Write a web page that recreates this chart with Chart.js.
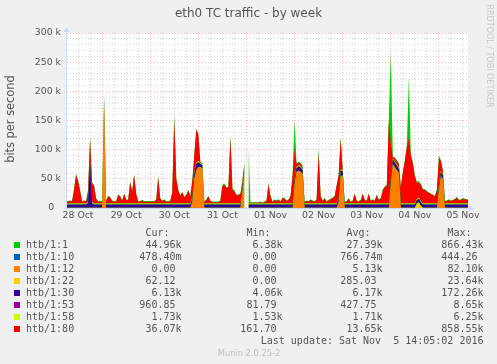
<!DOCTYPE html>
<html>
<head>
<meta charset="utf-8">
<script src="https://cdn.jsdelivr.net/npm/chart.js@4.4.0/dist/chart.umd.min.js"></script>
<style>
  html, body { margin: 0; padding: 0; background: #f0f0f0; }
  #wrap { position: relative; width: 497px; height: 364px; overflow: hidden; font-family: "DejaVu Sans", sans-serif; color: #555; }
  #chart { position: absolute; left: 0; top: 0; }
  .txt { position: absolute; white-space: pre; }
  .mono { font-family: "DejaVu Sans Mono", monospace; font-size: 10px; line-height: 12px; height: 12px; }
  .box { position: absolute; width: 6px; height: 6px; }
</style>
</head>
<body>
<div id="wrap">
  <canvas id="chart" width="497" height="364"></canvas>
  <div class="txt" style="left:0; width:497px; top:6px; text-align:center; font-size:12px; line-height:14px;">eth0 TC traffic - by week</div>
  <div class="txt" style="left:-50px; top:112px; width:120px; text-align:center; font-size:11.4px; line-height:14px; transform:rotate(-90deg);">bits per second</div>
  <div class="txt" style="left:434px; top:51px; width:110px; text-align:center; font-size:8px; line-height:10px; color:#c8c8c8; transform:rotate(90deg);">RRDTOOL / TOBI OETIKER</div>
  <div class="txt" style="left:149px; width:200px; top:348px; text-align:center; font-size:8.3px; line-height:10px; color:#c0c0c0;">Munin 2.0.25-2</div>
  <div id="legend"></div>
</div>
<script>
// time axis: one value per hour, first value at 28 Oct 06:00 (hours counted from 28 Oct 00:00)
const firstHour = 6;
const dayLabels = ['28 Oct', '29 Oct', '30 Oct', '31 Oct', '01 Nov', '02 Nov', '03 Nov', '04 Nov', '05 Nov'];

// values in kbit/s, one row per day
const htb1 = [
  [12,12,13,12,32,59,48,31,12,13,12,30,121,44,39,17,12,12],
  [12,194,13,21,19,13,12,12,23,21,13,25,15,14,46,29,58,25,12,12,14,12,12,12],
  [12,12,12,15,55,17,13,15,12,12,13,27,162,52,31,22,28,19,23,31,21,47,92,136],
  [127,79,77,11,15,21,13,11,11,11,11,13,40,42,36,36,126,34,30,23,23,25,47,78],
  [null,103,10,10,10,10,10,11,10,11,13,43,21,11,15,13,15,12,18,17,13,15,21,57],
  [150,77,79,78,72,11,13,12,15,13,12,15,102,21,13,17,12,14,16,18,21,40,57,122],
  [66,11,12,17,11,13,25,13,12,14,25,15,13,25,13,15,13,23,15,17,32,37,40,151],
  [266,88,87,82,77,37,62,82,107,224,92,78,56,45,46,41,33,32,29,27,25,23,21,32],
  [90,82,64,13,13,15,13,14,16,19,14,15,17,16,15,15]
].flat();

const htb10 = [
  [0,0,0,0,0,0,0,0,0,0,0,0,0,0,0,0,0,0],
  [0,0,0,0,0,0,0,0,0,0,0,0,0,0,0,0,0,0,0,0,0,0,0,0],
  [0,0,0,0,0,0,0,0,0,0,0,0,0,0,0,0,0,0,0,0,0,0,0,0],
  [0,0,0,0,0,0,0,0,0,0,0,0,0,0,0,0,0,0,0,0,0,0,0,0],
  [null,0,0,0,0,0,0,0,0,0,0,0,0,0,0,0,0,0,0,0,0,0,0,0],
  [0,0,0,0,0,0,0,0,0,0,0,0,0,0,0,0,0,0,0,0,0,0,0,0],
  [0,0,0,0,0,0,0,0,0,0,0,0,0,0,0,0,0,0,0,0,0,0,0,0],
  [0,0,0,0,0,0,0,0,0,0,0,0,0,0,0,0,0,0,0,0,0,0,0,0],
  [0,0,0,0,0,0,0,0,0,0,0,0,0,0,0,0]
].flat();

const htb12 = [
  [0,0,0,0,0,0,0,0,0,0,0,0,0,0,0,0,0,0],
  [0,178,0,0,0,0,0,0,0,0,0,0,0,0,0,0,0,0,0,0,0,0,0,0],
  [0,0,0,0,0,0,0,0,0,0,0,0,0,0,0,0,0,0,0,0,0,10,50,65],
  [70,70,68,0,0,0,0,0,0,0,0,0,0,0,0,0,0,0,0,0,0,0,30,62],
  [null,0,0,0,0,0,0,0,0,0,0,0,0,0,0,0,0,0,0,0,0,0,0,0],
  [40,62,64,62,58,0,0,0,0,0,0,0,0,0,0,0,0,0,0,0,0,0,10,55],
  [55,0,0,0,0,0,0,0,0,0,0,0,0,0,0,0,0,0,0,0,0,0,0,0],
  [40,75,70,65,60,0,0,0,0,0,0,0,0,0,0,0,0,0,0,0,0,0,0,0],
  [30,54,50,0,0,0,0,0,0,0,0,0,0,0,0,0]
].flat();

const htb22 = [
  [0.3,0.3,0.3,0.3,0.3,0.3,0.3,0.3,0.3,0.3,0.3,0.3,0.3,0.3,0.3,0.3,0.3,0.3],
  [0.3,0.3,0.3,0.3,0.3,0.3,0.3,0.3,0.3,0.3,0.3,0.3,0.3,0.3,0.3,0.3,0.3,0.3,0.3,0.3,0.3,0.3,0.3,0.3],
  [0.3,0.3,0.3,0.3,0.3,0.3,0.3,0.3,0.3,0.3,0.3,0.3,0.3,0.3,0.3,0.3,0.3,0.3,0.3,0.3,0.3,0.3,0.3,0.3],
  [0.3,0.3,0.3,0.3,0.3,0.3,0.3,0.3,0.3,0.3,0.3,0.3,0.3,0.3,0.3,0.3,0.3,0.3,0.3,0.3,0.3,0.3,0.3,0.3],
  [null,0.3,0.3,0.3,0.3,0.3,0.3,0.3,0.3,0.3,0.3,0.3,0.3,0.3,0.3,0.3,0.3,0.3,0.3,0.3,0.3,0.3,0.3,0.3],
  [0.3,0.3,0.3,0.3,0.3,0.3,0.3,0.3,0.3,0.3,0.3,0.3,0.3,0.3,0.3,0.3,0.3,0.3,0.3,0.3,0.3,0.3,0.3,0.3],
  [0.3,0.3,0.3,0.3,0.3,0.3,0.3,0.3,0.3,0.3,0.3,0.3,0.3,0.3,0.3,0.3,0.3,0.3,0.3,0.3,0.3,0.3,0.3,0.3],
  [0.3,0.3,0.3,0.3,0.3,0.3,0.3,0.3,0.3,0.3,0.3,0.3,0.3,8,10,4,0.3,0.3,0.3,0.3,0.3,0.3,0.3,0.3],
  [0.3,0.3,0.3,0.3,0.3,0.3,0.3,0.3,0.3,0.3,0.3,0.3,0.3,0.3,0.3,0.3]
].flat();

const htb30 = [
  [5.5,5.5,5.5,5.5,5.5,5.5,5.5,5.5,5.5,5.5,5.5,8,78,8,5.5,5.5,5.5,5.5],
  [5.5,5,5.5,5.5,5.5,5.5,5.5,5.5,5.5,5.5,5.5,5.5,5.5,5.5,5.5,5.5,5.5,5.5,5.5,5.5,5.5,5.5,5.5,5.5],
  [5.5,5.5,5.5,5.5,5.5,5.5,5.5,5.5,5.5,5.5,5.5,5.5,5.5,5.5,5.5,5.5,5.5,5.5,5.5,5.5,5.5,6,8,10],
  [8,5,5,5.5,5.5,5.5,5.5,5.5,5.5,5.5,5.5,5.5,5.5,5.5,5.5,5.5,5.5,5.5,5.5,5.5,5.5,5.5,6,7],
  [null,5.5,5.5,5.5,5.5,5.5,5.5,5.5,5.5,5.5,5.5,5.5,5.5,5.5,5.5,5.5,5.5,5.5,5.5,5.5,5.5,5.5,5.5,5.5],
  [6,6,7,7,6,5.5,5.5,5.5,5.5,5.5,5.5,5.5,5.5,5.5,5.5,5.5,5.5,5.5,5.5,5.5,5.5,5.5,6,8],
  [8,5.5,5.5,5.5,5.5,5.5,5.5,5.5,5.5,5.5,5.5,5.5,5.5,5.5,5.5,5.5,5.5,5.5,5.5,5.5,5.5,5.5,5.5,5.5],
  [6,8,7,7,6,5.5,5.5,5.5,5.5,5.5,5.5,5.5,5.5,5.5,5.5,5.5,5.5,5.5,5.5,5.5,5.5,5.5,5.5,5.5],
  [6,7,6,5.5,5.5,5.5,5.5,5.5,5.5,5.5,5.5,5.5,5.5,5.5,5.5,5.5]
].flat();

const htb53 = [
  [0.4,0.4,0.4,0.4,0.4,0.4,0.4,0.4,0.4,0.4,0.4,0.4,0.4,0.4,0.4,0.4,0.4,0.4],
  [0.4,0.4,0.4,0.4,0.4,0.4,0.4,0.4,0.4,0.4,0.4,0.4,0.4,0.4,0.4,0.4,0.4,0.4,0.4,0.4,0.4,0.4,0.4,0.4],
  [0.4,0.4,0.4,0.4,0.4,0.4,0.4,0.4,0.4,0.4,0.4,0.4,0.4,0.4,0.4,0.4,0.4,0.4,0.4,0.4,0.4,0.4,0.4,0.4],
  [0.4,0.4,0.4,0.4,0.4,0.4,0.4,0.4,0.4,0.4,0.4,0.4,0.4,0.4,0.4,0.4,0.4,0.4,0.4,0.4,0.4,0.4,0.4,0.4],
  [null,0.4,0.4,0.4,0.4,0.4,0.4,0.4,0.4,0.4,0.4,0.4,0.4,0.4,0.4,0.4,0.4,0.4,0.4,0.4,0.4,0.4,0.4,0.4],
  [0.4,0.4,0.4,0.4,0.4,0.4,0.4,0.4,0.4,0.4,0.4,0.4,0.4,0.4,0.4,0.4,0.4,0.4,0.4,0.4,0.4,0.4,0.4,0.4],
  [0.4,0.4,0.4,0.4,0.4,0.4,0.4,0.4,0.4,0.4,0.4,0.4,0.4,0.4,0.4,0.4,0.4,0.4,0.4,0.4,0.4,0.4,0.4,0.4],
  [0.4,0.4,0.4,0.4,0.4,0.4,0.4,0.4,0.4,0.4,0.4,0.4,0.4,0.4,0.4,0.4,0.4,0.4,0.4,0.4,0.4,0.4,0.4,0.4],
  [0.4,0.4,0.4,0.4,0.4,0.4,0.4,0.4,0.4,0.4,0.4,0.4,0.4,0.4,0.4,0.4]
].flat();

const htb58 = [
  [1.7,1.7,1.7,1.7,1.7,1.7,1.7,1.7,1.7,1.7,1.7,1.7,1.7,1.7,1.7,1.7,1.7,1.7],
  [1.7,1.7,1.7,1.7,1.7,1.7,1.7,1.7,1.7,1.7,1.7,1.7,1.7,1.7,1.7,1.7,1.7,1.7,1.7,1.7,1.7,1.7,1.7,1.7],
  [1.7,1.7,1.7,1.7,1.7,1.7,1.7,1.7,1.7,1.7,1.7,1.7,1.7,1.7,1.7,1.7,1.7,1.7,1.7,1.7,1.7,1.7,1.7,1.7],
  [1.7,1.7,1.7,1.7,1.7,1.7,1.7,1.7,1.7,1.7,1.7,1.7,1.7,1.7,1.7,1.7,1.7,1.7,1.7,1.7,1.7,1.7,1.7,1.7],
  [null,1.7,1.7,1.7,1.7,1.7,1.7,1.7,1.7,1.7,1.7,1.7,1.7,1.7,1.7,1.7,1.7,1.7,1.7,1.7,1.7,1.7,1.7,1.7],
  [1.7,1.7,1.7,1.7,1.7,1.7,1.7,1.7,1.7,1.7,1.7,1.7,1.7,1.7,1.7,1.7,1.7,1.7,1.7,1.7,1.7,1.7,1.7,1.7],
  [1.7,1.7,1.7,1.7,1.7,1.7,1.7,1.7,1.7,1.7,1.7,1.7,1.7,1.7,1.7,1.7,1.7,1.7,1.7,1.7,1.7,1.7,1.7,1.7],
  [1.7,1.7,1.7,1.7,1.7,1.7,1.7,1.7,1.7,1.7,1.7,1.7,1.7,1.7,1.7,1.7,1.7,1.7,1.7,1.7,1.7,1.7,1.7,1.7],
  [1.7,1.7,1.7,1.7,1.7,1.7,1.7,1.7,1.7,1.7,1.7,1.7,1.7,1.7,1.7,1.7]
].flat();

const htb80 = [
  [3,3,4,3,22,48,39,22,3,4,3,18,38,32,30,8,3,3],
  [3,3,4,12,10,4,3,3,14,12,4,16,6,5,36,20,48,16,3,3,5,3,3,3],
  [3,3,3,6,44,8,4,6,3,3,4,17,142,42,22,13,19,10,14,22,12,27,30,57],
  [45,1,1,2,6,12,4,2,2,2,2,4,30,32,27,27,112,24,20,14,14,16,7,6],
  [null,1,1,1,1,1,1,2,1,2,4,32,12,2,6,4,6,3,9,8,4,6,12,47],
  [52,5,4,5,4,2,4,3,6,4,3,6,87,12,4,8,3,5,7,9,12,30,37,53],
  [0,2,3,8,2,4,16,4,3,5,16,6,4,16,4,6,4,14,6,8,22,28,30,140],
  [62,1,6,6,7,27,52,72,97,112,82,68,46,27,26,28,23,23,20,18,16,14,12,22],
  [47,17,4,4,4,6,4,5,7,10,5,6,8,7,6,6]
].flat();

// legend table
const seriesNames = ['htb/1:1', 'htb/1:10', 'htb/1:12', 'htb/1:22', 'htb/1:30', 'htb/1:53', 'htb/1:58', 'htb/1:80'];
const seriesColors = ['#00cc00', '#0066b3', '#ff8000', '#ffcc00', '#330099', '#990099', '#ccff00', '#ff0000'];
const curValues = ['44.96k', '478.40m', '0.00 ', '62.12 ', '6.13k', '960.85 ', '1.73k', '36.07k'];
const minValues = ['6.38k', '0.00 ', '0.00 ', '0.00 ', '4.06k', '81.79 ', '1.53k', '161.70 '];
const avgValues = ['27.39k', '766.74m', '5.13k', '285.03 ', '6.17k', '427.75 ', '1.71k', '13.65k'];
const maxValues = ['866.43k', '444.26 ', '82.10k', '23.64k', '172.26k', '8.65k', '6.25k', '858.55k'];
const lastUpdate = 'Last update: Sat Nov  5 14:05:02 2016';

const stackedSeries = [htb10, htb12, htb22, htb30, htb53, htb58, htb80];

function toPoints(values) {
    return values.map((v, i) => ({ x: firstHour + i, y: v === null ? null : v * 1000 }));
}

const datasets = stackedSeries.map((values, k) => ({
    label: seriesNames[k + 1],
    data: toPoints(values),
    stack: 'classes',
    backgroundColor: seriesColors[k + 1],
    borderColor: 'rgba(0,0,0,0)',
    borderWidth: 0,
    pointRadius: 0,
    fill: k === 0 ? 'origin' : '-1'
}));
// root class drawn behind the stacked classes
datasets.push({
    label: seriesNames[0],
    data: toPoints(htb1),
    stack: 'root',
    backgroundColor: seriesColors[0],
    borderColor: 'rgba(0,0,0,0)',
    borderWidth: 0,
    pointRadius: 0,
    fill: 'origin'
});

const majorGrid = 'rgba(255, 80, 80, 0.45)';
const minorGrid = 'rgba(150, 150, 150, 0.4)';
const axisColor = '#cfd6f8';

const plotBackground = {
    id: 'plotBackground',
    beforeDraw(chart) {
        const a = chart.chartArea;
        const ctx = chart.ctx;
        ctx.save();
        ctx.fillStyle = '#ffffff';
        ctx.fillRect(a.left, a.top, a.right - a.left, a.bottom - a.top);
        ctx.restore();
    }
};

// rrdtool style axis lines with arrow heads
const axisArrows = {
    id: 'axisArrows',
    afterDraw(chart) {
        const a = chart.chartArea;
        const ctx = chart.ctx;
        ctx.save();
        ctx.strokeStyle = axisColor;
        ctx.fillStyle = axisColor;
        ctx.lineWidth = 1;
        ctx.beginPath();
        ctx.moveTo(a.left - 3, a.bottom + 0.5);
        ctx.lineTo(a.right + 2, a.bottom + 0.5);
        ctx.moveTo(a.left - 0.5, a.bottom + 3);
        ctx.lineTo(a.left - 0.5, a.top - 2);
        ctx.stroke();
        ctx.beginPath();
        ctx.moveTo(a.right + 6, a.bottom + 0.5);
        ctx.lineTo(a.right + 1, a.bottom - 2.5);
        ctx.lineTo(a.right + 1, a.bottom + 3.5);
        ctx.closePath();
        ctx.fill();
        ctx.beginPath();
        ctx.moveTo(a.left - 0.5, a.top - 6);
        ctx.lineTo(a.left - 3.5, a.top - 1);
        ctx.lineTo(a.left + 2.5, a.top - 1);
        ctx.closePath();
        ctx.fill();
        ctx.restore();
    }
};

const tickFont = { family: 'DejaVu Sans', size: 9.33 };

new Chart(document.getElementById('chart'), {
    type: 'line',
    data: { datasets: datasets },
    plugins: [plotBackground, axisArrows],
    options: {
        responsive: false,
        animation: false,
        events: [],
        layout: { padding: { left: 0, right: 29, top: 33, bottom: 136 } },
        elements: { line: { tension: 0 } },
        plugins: {
            legend: { display: false },
            tooltip: { enabled: false },
            title: { display: false }
        },
        scales: {
            x: {
                type: 'linear',
                min: 6.5,
                max: 206.5,
                afterFit: s => { s.height = 20; },
                afterBuildTicks: s => {
                    const ticks = [];
                    for (let h = 12; h <= 206; h += 6) ticks.push({ value: h });
                    s.ticks = ticks;
                },
                border: { display: false, dash: [1, 2] },
                grid: {
                    drawTicks: false,
                    color: c => (c.tick && c.tick.value % 24 === 0) ? majorGrid : minorGrid
                },
                ticks: {
                    autoSkip: false,
                    maxRotation: 0,
                    padding: 2,
                    color: '#555',
                    font: tickFont,
                    callback: v => (v % 24 === 12) ? dayLabels[(v - 12) / 24] : ''
                }
            },
            y: {
                stacked: true,
                min: 0,
                max: 300000,
                afterFit: s => { s.width = 67; },
                border: { display: false, dash: [1, 2] },
                grid: {
                    drawTicks: false,
                    color: c => (c.tick && c.tick.value % 50000 === 0) ? majorGrid : minorGrid
                },
                ticks: {
                    stepSize: 10000,
                    autoSkip: false,
                    padding: 6,
                    color: '#555',
                    font: tickFont,
                    callback: v => {
                        if (v % 50000 !== 0) return '';
                        return v === 0 ? '0  \u200a' : (v / 1000) + ' k';
                    }
                }
            }
        }
    }
});

// legend, laid out like the rrdtool text block
const legend = document.getElementById('legend');
function addText(text, left, top, width, align) {
    const d = document.createElement('div');
    d.className = 'txt mono';
    d.textContent = text;
    d.style.left = left + 'px';
    d.style.top = top + 'px';
    if (width) { d.style.width = width + 'px'; d.style.textAlign = align; }
    legend.appendChild(d);
}
const rowTop = 239.2;
const colEnds = [181.5, 282.5, 382.5, 483.5];
const headers = ['Cur:', 'Min:', 'Avg:', 'Max:'];
const columns = [curValues, minValues, avgValues, maxValues];
headers.forEach((h, c) => addText(h, colEnds[c] - 12 - 60, rowTop - 12, 60, 'right'));
seriesNames.forEach((name, i) => {
    const top = rowTop + 12 * i;
    const box = document.createElement('div');
    box.className = 'box';
    box.style.left = '14px';
    box.style.top = (top + 2.6) + 'px';
    box.style.background = seriesColors[i];
    legend.appendChild(box);
    addText(name, 26, top);
    columns.forEach((col, c) => addText(col[i], colEnds[c] - 90, top, 90, 'right'));
});
addText(lastUpdate, colEnds[3] - 260, rowTop + 12 * 8, 260, 'right');
</script>
</body>
</html>
